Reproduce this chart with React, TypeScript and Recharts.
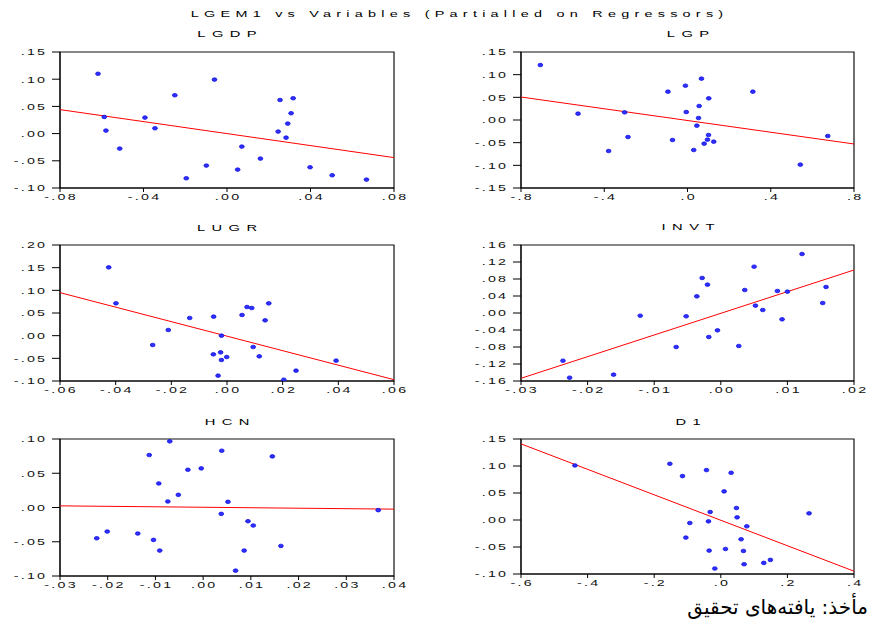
import React from "react";
import { ScatterChart, Scatter, XAxis, YAxis, ReferenceArea } from "recharts";

// partial regression plots
const lgdpX = [-0.0618, -0.0588, -0.058, -0.0514, -0.0393, -0.0345, -0.025, -0.0195, -0.0099, -0.006, 0.0051, 0.0071, 0.016, 0.0245, 0.0254, 0.0283, 0.0291, 0.0307, 0.0317, 0.0398, 0.0504, 0.0668];
const lgdpY = [0.11, 0.0306, 0.0055, -0.0276, 0.0294, 0.0098, 0.0705, -0.0821, -0.0588, 0.0993, -0.0662, -0.0239, -0.046, 0.0037, 0.0619, -0.0074, 0.0184, 0.0374, 0.065, -0.0619, -0.0766, -0.0846];
const lgdpFitX = [-0.08, 0.08];
const lgdpFitY = [0.0441, -0.0441];
const lgdpXTicks = [-0.08, -0.04, 0, 0.04, 0.08];
const lgdpYTicks = [-0.1, -0.05, 0, 0.05, 0.1, 0.15];

const lgpX = [-0.707, -0.526, -0.379, -0.302, -0.286, -0.094, -0.072, -0.01, -0.006, 0.03, 0.045, 0.053, 0.056, 0.067, 0.08, 0.096, 0.101, 0.102, 0.126, 0.314, 0.542, 0.674];
const lgpY = [0.1213, 0.014, -0.0684, 0.0169, -0.0375, 0.0625, -0.0441, 0.0757, 0.0176, -0.0662, -0.0125, 0.0044, 0.0309, 0.0912, -0.0522, -0.0434, -0.0331, 0.0478, -0.0478, 0.0625, -0.0985, -0.0353];
const lgpFitX = [-0.8, 0.8];
const lgpFitY = [0.0507, -0.0529];
const lgpXTicks = [-0.8, -0.4, 0, 0.4, 0.8];
const lgpYTicks = [-0.15, -0.1, -0.05, 0, 0.05, 0.1, 0.15];

const lugrX = [-0.0425, -0.0399, -0.0267, -0.0211, -0.0134, -0.0049, -0.0048, -0.0032, -0.0023, -0.002, -0.002, -0.0001, 0.0054, 0.0072, 0.0089, 0.0094, 0.0116, 0.0137, 0.015, 0.0204, 0.0248, 0.0392];
const lugrY = [0.1507, 0.0713, -0.0206, 0.0125, 0.039, -0.0412, 0.0419, -0.0882, -0.0368, -0.0537, 0.0, -0.0471, 0.0456, 0.0632, 0.061, -0.025, -0.0456, 0.0338, 0.0713, -0.0971, -0.0772, -0.0551];
const lugrFitX = [-0.06, 0.06];
const lugrFitY = [0.0949, -0.0971];
const lugrXTicks = [-0.06, -0.04, -0.02, 0, 0.02, 0.04, 0.06];
const lugrYTicks = [-0.1, -0.05, 0, 0.05, 0.1, 0.15, 0.2];

const invtX = [-0.0237, -0.0227, -0.0161, -0.0121, -0.0067, -0.0052, -0.0036, -0.0028, -0.002, -0.0018, -0.0005, 0.0027, 0.0036, 0.005, 0.0052, 0.0063, 0.0085, 0.0092, 0.01, 0.0122, 0.0153, 0.0158];
const invtY = [-0.1122, -0.1522, -0.1451, -0.0063, -0.08, -0.0078, 0.0392, 0.0824, 0.0667, -0.0565, -0.0408, -0.0776, 0.0541, 0.109, 0.0173, 0.0071, 0.0518, -0.0149, 0.0502, 0.1388, 0.0235, 0.0612];
const invtFitX = [-0.03, 0.02];
const invtFitY = [-0.1537, 0.1012];
const invtXTicks = [-0.03, -0.02, -0.01, 0, 0.01, 0.02];
const invtYTicks = [-0.16, -0.12, -0.08, -0.04, 0, 0.04, 0.08, 0.12, 0.16];

const hcnX = [-0.0223, -0.0201, -0.0137, -0.0113, -0.0104, -0.0093, -0.0091, -0.0074, -0.007, -0.0052, -0.0032, -0.0004, 0.0038, 0.0039, 0.0052, 0.0068, 0.0086, 0.0094, 0.0105, 0.0145, 0.0163, 0.0367];
const hcnY = [-0.0449, -0.0351, -0.038, 0.0766, -0.0473, 0.0351, -0.0629, 0.0088, 0.0966, 0.0185, 0.0551, 0.0571, -0.0093, 0.0829, 0.0083, -0.0922, -0.0629, -0.02, -0.0263, 0.0746, -0.0561, -0.0039];
const hcnFitX = [-0.03, 0.04];
const hcnFitY = [0.0024, -0.0024];
const hcnXTicks = [-0.03, -0.02, -0.01, 0, 0.01, 0.02, 0.03, 0.04];
const hcnYTicks = [-0.1, -0.05, 0, 0.05, 0.1];

const d1X = [-0.438, -0.153, -0.115, -0.105, -0.093, -0.043, -0.037, -0.035, -0.032, -0.018, 0.01, 0.014, 0.031, 0.047, 0.049, 0.061, 0.068, 0.07, 0.078, 0.129, 0.149, 0.265];
const d1Y = [0.101, 0.1041, 0.0813, -0.0326, -0.0055, 0.0924, -0.0025, -0.0567, 0.0148, -0.0899, 0.053, -0.0536, 0.0874, 0.0222, 0.0049, -0.0357, -0.0573, -0.0819, -0.0117, -0.0794, -0.0739, 0.0123];
const d1FitX = [-0.6, 0.4];
const d1FitY = [0.141, -0.0948];
const d1XTicks = [-0.6, -0.4, -0.2, 0, 0.2, 0.4];
const d1YTicks = [-0.1, -0.05, 0, 0.05, 0.1, 0.15];

const zip = (xs: number[], ys: number[]) => xs.map((x, i) => ({ x, y: ys[i] }));

const FONT = "'Liberation Sans', Arial, sans-serif";

const fmt = (v: number, d: number) => {
  const s = Math.abs(v).toFixed(d).replace(/^0/, "");
  return v < -1e-9 ? "-" + s : s;
};

const AxisTick = (props: any) => {
  const { x, y, payload, textAnchor, verticalAnchor, d } = props;
  const ls = 1.5;
  const dx = textAnchor === "end" ? ls : textAnchor === "middle" ? ls / 2 : 0;
  return (
    <g transform={`translate(${x},${y})`}>
      <text
        transform="scale(1.5,1)"
        textAnchor={textAnchor}
        dx={dx}
        dy={verticalAnchor === "start" ? "0.71em" : "0.35em"}
        fontSize={9.5}
        fontFamily={FONT}
        letterSpacing={ls}
        fill="#111"
      >
        {fmt(payload.value, d)}
      </text>
    </g>
  );
};

const Dot = (p: any) => (
  <ellipse cx={p.cx} cy={p.cy} rx={2.4} ry={1.8} fill="#3030ff" stroke="#0000e0" strokeWidth={0.7} />
);

const panels = [
  { name: "LGDP", x: lgdpX, y: lgdpY, fx: lgdpFitX, fy: lgdpFitY, xt: lgdpXTicks, yt: lgdpYTicks, xd: 2, yd: 2, left: 60, top: 52, w: 334, h: 136, ty: 34 },
  { name: "LGP", x: lgpX, y: lgpY, fx: lgpFitX, fy: lgpFitY, xt: lgpXTicks, yt: lgpYTicks, xd: 1, yd: 2, left: 521, top: 52, w: 333, h: 136, ty: 34 },
  { name: "LUGR", x: lugrX, y: lugrY, fx: lugrFitX, fy: lugrFitY, xt: lugrXTicks, yt: lugrYTicks, xd: 2, yd: 2, left: 60, top: 245, w: 334, h: 136, ty: 228 },
  { name: "INVT", x: invtX, y: invtY, fx: invtFitX, fy: invtFitY, xt: invtXTicks, yt: invtYTicks, xd: 2, yd: 2, left: 521, top: 245, w: 333, h: 136, ty: 227 },
  { name: "HCN", x: hcnX, y: hcnY, fx: hcnFitX, fy: hcnFitY, xt: hcnXTicks, yt: hcnYTicks, xd: 2, yd: 2, left: 60, top: 439, w: 334, h: 137, ty: 422 },
  { name: "D1", x: d1X, y: d1Y, fx: d1FitX, fy: d1FitY, xt: d1XTicks, yt: d1YTicks, xd: 1, yd: 2, left: 521, top: 439, w: 333, h: 135, ty: 422 },
];

const YW = 60;
const MT = 10;
const MR = 22;
const XH = 26;

function Label({ text, cx, cy, size, ls }: { text: string; cx: number; cy: number; size: number; ls: number }) {
  return (
    <div
      style={{
        position: "absolute",
        left: cx,
        top: cy,
        transform: "translate(-50%,-50%) scaleX(1.5)",
        fontFamily: FONT,
        fontSize: size,
        letterSpacing: ls,
        paddingLeft: ls,
        lineHeight: 1,
        whiteSpace: "pre",
        color: "#000",
      }}
    >
      {text}
    </div>
  );
}

export default function App() {
  return (
    <div style={{ position: "absolute", left: 0, top: 0, width: 871, height: 628, background: "#fff", overflow: "hidden" }}>
      <Label text="LGEM1 vs Variables (Partialled on Regressors)" cx={457} cy={14} size={9.6} ls={3.5} />
      {panels.map((p) => {
        const xDom = [p.xt[0], p.xt[p.xt.length - 1]];
        const yDom = [p.yt[0], p.yt[p.yt.length - 1]];
        return (
          <React.Fragment key={p.name}>
            <Label text={p.name} cx={p.left + p.w / 2} cy={p.ty} size={9.8} ls={4.3} />
            <div style={{ position: "absolute", left: p.left - YW, top: p.top - MT }}>
              <ScatterChart
                width={YW + p.w + MR}
                height={MT + p.h + XH}
                margin={{ top: MT, right: MR, bottom: 0, left: 0 }}
              >
                <XAxis
                  type="number"
                  dataKey="x"
                  domain={xDom}
                  ticks={p.xt}
                  allowDataOverflow
                  height={XH}
                  tickSize={4}
                  tickMargin={1}
                  axisLine={{ stroke: "#000" }}
                  tickLine={{ stroke: "#000" }}
                  tick={(t: any) => <AxisTick {...t} d={p.xd} />}
                  interval={0}
                />
                <YAxis
                  type="number"
                  dataKey="y"
                  domain={yDom}
                  ticks={p.yt}
                  allowDataOverflow
                  width={YW}
                  tickSize={8}
                  tickMargin={7}
                  axisLine={{ stroke: "#000" }}
                  tickLine={{ stroke: "#000" }}
                  tick={(t: any) => <AxisTick {...t} d={p.yd} />}
                  interval={0}
                />
                <ReferenceArea
                  x1={xDom[0]}
                  x2={xDom[1]}
                  y1={yDom[0]}
                  y2={yDom[1]}
                  fill="none"
                  fillOpacity={0}
                  stroke="#111"
                  strokeWidth={1.2}
                  ifOverflow="visible"
                />
                <Scatter
                  data={zip(p.fx, p.fy)}
                  line={{ stroke: "#ff0000", strokeWidth: 1 }}
                  shape={() => <g />}
                  isAnimationActive={false}
                  legendType="none"
                />
                <Scatter data={zip(p.x, p.y)} shape={Dot} isAnimationActive={false} legendType="none" />
              </ScatterChart>
            </div>
          </React.Fragment>
        );
      })}
      <div
        dir="rtl"
        style={{
          position: "absolute",
          right: 3,
          top: 595,
          fontFamily: "'DejaVu Sans', 'Noto Sans', sans-serif",
          fontSize: 20,
          lineHeight: 1.2,
          color: "#000",
          whiteSpace: "nowrap",
        }}
      >
        مأخذ: یافته‌های تحقیق
      </div>
    </div>
  );
}
